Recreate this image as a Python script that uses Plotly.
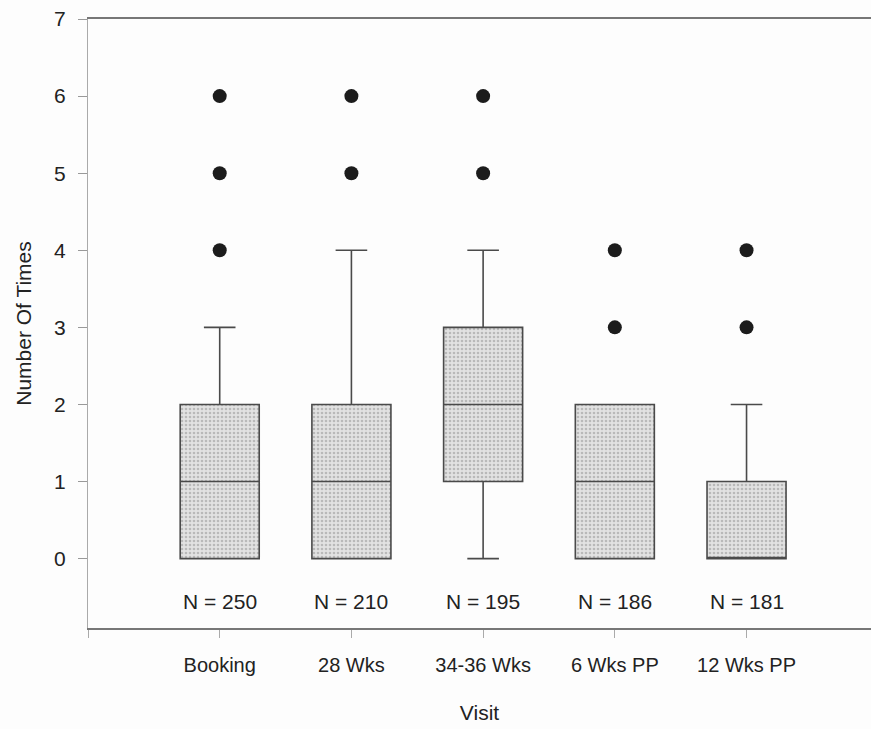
import plotly.graph_objects as go

categories = ["Booking", "28 Wks", "34-36 Wks", "6 Wks PP", "12 Wks PP"]
q1 = [0, 0, 1, 0, 0]
median = [1, 1, 2, 1, 0]
q3 = [2, 2, 3, 2, 1]
lower_whisker = [0, 0, 0, 0, 0]
upper_whisker = [3, 4, 4, 2, 2]
outliers = [[4, 5, 6], [5, 6], [5, 6], [3, 4], [3, 4]]
n_values = [250, 210, 195, 186, 181]
y_ticks = [0, 1, 2, 3, 4, 5, 6, 7]

xpos = list(range(len(categories)))
font_family = "Liberation Sans, Arial, sans-serif"

fig = go.Figure()

# dotted texture under the boxes
fig.add_trace(go.Bar(
    x=xpos, y=[b - a for a, b in zip(q1, q3)], base=q1, width=0.6,
    marker=dict(color="#dedede", line=dict(width=0),
                pattern=dict(shape=".", fgcolor="#8f8f8f", bgcolor="#e2e2e2",
                             size=4, solidity=0.35)),
    showlegend=False, hoverinfo="skip"))

fig.add_trace(go.Box(
    x=xpos, q1=q1, median=median, q3=q3,
    lowerfence=lower_whisker, upperfence=upper_whisker,
    width=0.6, whiskerwidth=0.4,
    fillcolor="rgba(0,0,0,0)",
    line=dict(color="#4a4a4a", width=1.6),
    boxpoints=False, showlegend=False))

ox, oy = [], []
for i, vals in enumerate(outliers):
    for v in vals:
        ox.append(xpos[i])
        oy.append(v)
fig.add_trace(go.Scatter(
    x=ox, y=oy, mode="markers",
    marker=dict(size=14, color="#1c1c1c"), showlegend=False))

for i, n in enumerate(n_values):
    fig.add_annotation(x=xpos[i], y=-0.55, text=f"N = {n}", showarrow=False,
                       font=dict(family=font_family, size=21, color="#222"))

fig.update_layout(
    width=871, height=729,
    margin=dict(l=88, r=0, t=19, b=101),
    paper_bgcolor="#fdfdfd", plot_bgcolor="#fdfdfd",
    font=dict(family=font_family, color="#222"),
    bargap=0,
)
fig.update_xaxes(
    range=[-1, 4.945],
    tickvals=[-1] + xpos, ticktext=[""] + categories,
    ticks="outside", ticklen=8, tickcolor="#aaa", ticklabelstandoff=10,
    showline=True, linecolor="#777", linewidth=1.5, mirror=True,
    showgrid=False, zeroline=False,
    tickfont=dict(size=20, color="#222"),
    title=dict(text="Visit", font=dict(size=21, color="#222"), standoff=31),
)
fig.update_yaxes(
    range=[-0.9, 7.0005],
    tickvals=y_ticks,
    ticks="outside", ticklen=9, tickcolor="#999", ticklabelstandoff=8,
    showline=True, linecolor="#aaa", linewidth=1,
    showgrid=False, zeroline=False,
    tickfont=dict(size=21, color="#222"),
    title=dict(text="Number Of Times", font=dict(size=21, color="#222"), standoff=16),
)

fig.write_html(
    "out.html",
    config={"displayModeBar": False},
    post_script="document.body.style.margin='0';document.body.style.overflow='hidden';",
)
